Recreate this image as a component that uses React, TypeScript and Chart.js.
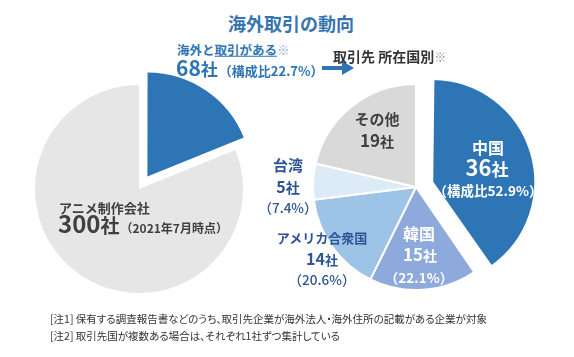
import React, { useEffect, useRef } from "react";
import { Chart, registerables } from "chart.js";

Chart.register(...registerables);

// ---- Data ----
const totalCompanies = 300;
const overseasCompanies = 68;
// left pie slice shares as drawn in the reference (blue slice ≈ 68° of 360°)
const leftCategories = ["海外と取引がある", "その他"];
const leftValues = [68, 292];
const rightCategories = ["中国", "韓国", "アメリカ合衆国", "台湾", "その他"];
const rightValues = [36, 15, 14, 5, 19];

const BLUE = "#2E75B6";
const FONT = '"Noto Sans CJK JP", "Noto Sans", sans-serif';

const pct = (v: number, base: number) => ((v / base) * 100).toFixed(1) + "%";

// Chart.js moves an offset arc by offset/4 and grows its radius; keep exploded slices at the base radius
const keepRadiusPlugin = {
  id: "keepRadius",
  beforeDatasetsDraw(chart: any) {
    const meta = chart.getDatasetMeta(0);
    const R = chart.options.radius;
    meta.data.forEach((el: any) => {
      const off = (el.options && el.options.offset) || 0;
      if (!off) return;
      const circ = el.endAngle - el.startAngle;
      const fix = 1 - Math.sin(Math.min(Math.PI, circ));
      el.outerRadius = R - (off / 4) * fix;
    });
  },
};

function PieCanvas(props: {
  left: number; top: number; size: number; data: number[]; labels: string[];
  colors: string[]; offsets: number[]; radius: number; borderWidth: number;
}) {
  const ref = useRef<HTMLCanvasElement | null>(null);
  useEffect(() => {
    if (!ref.current) return;
    const chart = new Chart(ref.current, {
      type: "pie",
      data: {
        labels: props.labels,
        datasets: [{
          data: props.data,
          backgroundColor: props.colors,
          borderColor: "#ffffff",
          borderWidth: props.borderWidth,
          offset: props.offsets.map((o) => o * 4),
          hoverOffset: 0,
        }],
      },
      options: {
        responsive: false,
        animation: false,
        radius: props.radius,
        layout: { padding: 0 },
        events: [],
        plugins: { legend: { display: false }, tooltip: { enabled: false }, title: { display: false } },
      } as any,
      plugins: [keepRadiusPlugin],
    });
    return () => chart.destroy();
  }, []);
  return (
    <canvas ref={ref} width={props.size} height={props.size}
      style={{ position: "absolute", left: props.left, top: props.top, width: props.size, height: props.size }} />
  );
}

function T(props: { x: number; y: number; size: number; color: string; weight?: number; children: any; align?: "center" | "left"; palt?: boolean }) {
  const center = props.align !== "left";
  return (
    <div style={{
      position: "absolute", left: props.x, top: props.y, fontSize: props.size, color: props.color,
      fontWeight: props.weight ?? 700, lineHeight: 1, whiteSpace: "nowrap", fontFamily: FONT,
      fontFeatureSettings: props.palt ? '"palt"' : "normal",
      transform: center ? "translate(-50%, -50%)" : "translate(0, -50%)", zIndex: 2,
    }}>{props.children}</div>
  );
}

export default function App() {
  const leftR = 104;
  const rightR = 103;
  const DARK = "#404040";
  const NAVY = "#2F5496";
  return (
    <div style={{ position: "fixed", left: 0, top: 0, width: 574, height: 357, background: "#fff", overflow: "hidden", fontFamily: FONT }}>
      <PieCanvas left={139 - 120} top={189 - 120} size={240} data={leftValues} labels={leftCategories}
        colors={[BLUE, "#E6E6E6"]} offsets={[15, 0]} radius={leftR} borderWidth={0} />
      <PieCanvas left={416 - 125} top={187 - 125} size={250} data={rightValues} labels={rightCategories}
        colors={[BLUE, "#8EA9DB", "#9DC3E6", "#DDEBF7", "#D9D9D9"]} offsets={[17, 0, 0, 0, 0]} radius={rightR} borderWidth={2} />

      {/* Title */}
      <T x={291} y={23} size={18} color="#3574B0">海外取引の動向</T>

      {/* Left header */}
      <T x={177} y={50} size={12.5} color={BLUE} align="left">
        海外と<span style={{ textDecoration: "underline" }}>取引がある</span><span style={{ color: "#8FAFD4", fontWeight: 400 }}>※</span>
      </T>
      <T x={176} y={67} size={21} color={BLUE} align="left">
        {overseasCompanies}<span style={{ fontSize: 17 }}>社</span>
        <span style={{ fontSize: 13, marginLeft: 1 }}>（構成比{pct(overseasCompanies, totalCompanies)}）</span>
      </T>
      <svg style={{ position: "absolute", left: 322, top: 61, zIndex: 2 }} width={34} height={14}>
        <polygon points="0,5 20,5 20,0 32,7 20,14 20,9 0,9" fill={BLUE} />
      </svg>

      {/* Right header */}
      <T x={333} y={56} size={14} color="#333" align="left">
        取引先 所在国別<span style={{ color: "#999", fontWeight: 400, fontSize: 12 }}>※</span>
      </T>

      {/* Left pie label */}
      <T x={59} y={207} size={13} color={DARK} align="left">アニメ制作会社</T>
      <T x={58} y={223} size={24} color={DARK} align="left">
        {totalCompanies}<span style={{ fontSize: 19 }}>社</span>
        <span style={{ fontSize: 12, marginLeft: 1 }}>（2021年7月時点）</span>
      </T>

      {/* その他 */}
      <T x={377} y={118} size={15} color={DARK}>{rightCategories[4]}</T>
      <T x={377} y={139} size={17} color={DARK}>{rightValues[4]}<span style={{ fontSize: 14 }}>社</span></T>

      {/* 中国 */}
      <T x={488} y={147} size={16} color="#fff">{rightCategories[0]}</T>
      <T x={487} y={166} size={22} color="#fff">{rightValues[0]}<span style={{ fontSize: 17 }}>社</span></T>
      <T x={488} y={191} size={13.5} color="#fff">（構成比{pct(rightValues[0], overseasCompanies)}）</T>

      {/* 韓国 */}
      <T x={419} y={233} size={16} color="#fff">{rightCategories[1]}</T>
      <T x={420} y={253} size={17} color="#fff">{rightValues[1]}<span style={{ fontSize: 14 }}>社</span></T>
      <T x={419} y={278} size={13.5} color="#fff">（{pct(rightValues[1], overseasCompanies)}）</T>

      {/* 台湾 */}
      <T x={288} y={164} size={15} color={NAVY}>{rightCategories[3]}</T>
      <T x={288} y={186} size={16} color={NAVY}>{rightValues[3]}<span style={{ fontSize: 14 }}>社</span></T>
      <T x={288} y={208} size={13.5} color={NAVY} weight={500}>（{pct(rightValues[3], overseasCompanies)}）</T>

      {/* アメリカ合衆国 */}
      <T x={322} y={237} size={13} color={NAVY}>{rightCategories[2]}</T>
      <T x={322} y={258} size={16} color={NAVY}>{rightValues[2]}<span style={{ fontSize: 13 }}>社</span></T>
      <T x={322} y={280} size={13.5} color={NAVY} weight={500}>（{pct(rightValues[2], overseasCompanies)}）</T>

      {/* Footnotes */}
      <T x={50} y={319} size={10.5} color="#333" weight={400} align="left" palt>[注1] 保有する調査報告書などのうち、取引先企業が海外法人・海外住所の記載がある企業が対象</T>
      <T x={50} y={336} size={10.5} color="#333" weight={400} align="left" palt>[注2] 取引先国が複数ある場合は、それぞれ1社ずつ集計している</T>
    </div>
  );
}
